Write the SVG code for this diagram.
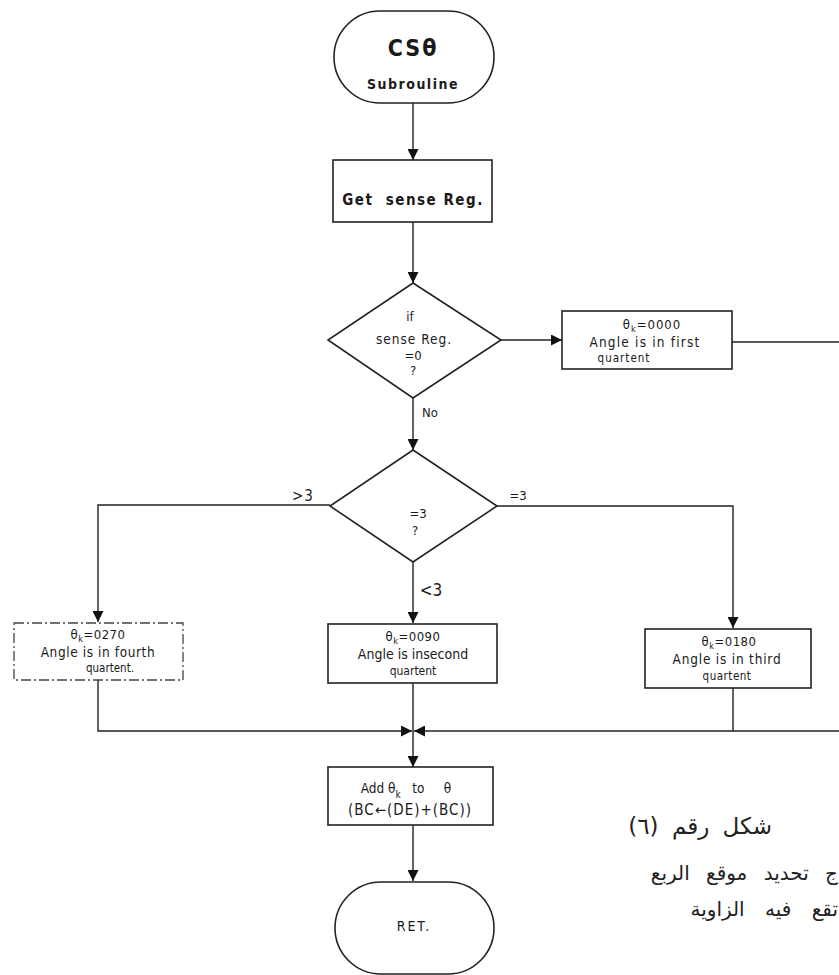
<svg xmlns="http://www.w3.org/2000/svg" width="839" height="975" viewBox="0 0 839 975">
<style>
  .shape{fill:#fff;stroke:#222;stroke-width:1.6}
  .dash{fill:#fff;stroke:#444;stroke-width:1.3;stroke-dasharray:10 3 2 3}
  .line{fill:none;stroke:#222;stroke-width:1.4}
  .t{font-family:"DejaVu Sans Condensed","DejaVu Sans","Liberation Sans",sans-serif;fill:#1a1a1a;text-anchor:middle}
  .ar{font-family:"DejaVu Sans","Noto Sans",sans-serif;fill:#222}
</style>
<defs>
  <marker id="ah" viewBox="0 0 10 10" refX="10" refY="5" markerWidth="11" markerHeight="11" markerUnits="userSpaceOnUse" orient="auto">
    <path d="M0,0 L10,5 L0,10 z" fill="#111"/>
  </marker>
</defs>
<rect width="839" height="975" fill="#fff"/>

<g id="connectors">
  <path class="line" d="M413,103 V160" marker-end="url(#ah)"/>
  <path class="line" d="M413,222 V283" marker-end="url(#ah)"/>
  <path class="line" d="M501,340 H562" marker-end="url(#ah)"/>
  <path class="line" d="M732,342 H839"/>
  <path class="line" d="M413,398 V450" marker-end="url(#ah)"/>
  <path class="line" d="M330,505 H98 V622" marker-end="url(#ah)"/>
  <path class="line" d="M413,562 V623" marker-end="url(#ah)"/>
  <path class="line" d="M497,506 H733 V628" marker-end="url(#ah)"/>
  <path class="line" d="M98,680 V731 H412" marker-end="url(#ah)"/>
  <path class="line" d="M733,688 V731"/>
  <path class="line" d="M839,731 H414" marker-end="url(#ah)"/>
  <path class="line" d="M413,683 V767" marker-end="url(#ah)"/>
  <path class="line" d="M413,825 V881" marker-end="url(#ah)"/>
  <text class="t" x="430" y="417" font-size="13">No</text>
  <text class="t" x="303" y="501" font-size="15" letter-spacing="1">&gt;3</text>
  <text class="t" x="518" y="500" font-size="13">=3</text>
  <text class="t" x="431" y="596" font-size="17">&lt;3</text>
</g>

<g id="start">
  <rect class="shape" x="334" y="11" width="160" height="92" rx="46" ry="46"/>
  <text class="t" x="413" y="56" font-size="23" font-weight="bold" letter-spacing="2">CSθ</text>
  <text class="t" x="413" y="89" font-size="14" font-weight="bold" letter-spacing="1.5">Subrouline</text>
</g>

<g id="get-sense">
  <rect class="shape" x="333" y="160" width="159" height="62"/>
  <text class="t" x="413" y="205" font-size="15" font-weight="bold" letter-spacing="1.5" xml:space="preserve">Get  sense Reg.</text>
</g>

<g id="decision-zero">
  <path class="shape" d="M413,283 L501,340 L413,398 L328,340 z"/>
  <text class="t" x="410" y="321" font-size="13">if</text>
  <text class="t" x="414" y="344" font-size="13.5" letter-spacing="1">sense Reg.</text>
  <text class="t" x="413" y="360" font-size="13">=0</text>
  <text class="t" x="413" y="375" font-size="13">?</text>
</g>

<g id="first-quadrant">
  <rect class="shape" x="562" y="311" width="170" height="58"/>
  <text class="t" x="652" y="329" font-size="13" letter-spacing="1">θ<tspan font-size="9" dy="3">k</tspan><tspan dy="-3">=0000</tspan></text>
  <text class="t" x="645" y="347" font-size="13.5" letter-spacing="1.2">Angle is in first</text>
  <text class="t" x="624" y="362" font-size="11.5" letter-spacing="1">quartent</text>
</g>

<g id="decision-three">
  <path class="shape" d="M413,450 L497,506 L413,562 L330,506 z"/>
  <text class="t" x="418" y="518" font-size="13">=3</text>
  <text class="t" x="415" y="535" font-size="13">?</text>
</g>

<g id="fourth-quadrant">
  <rect class="dash" x="14" y="623" width="169" height="57"/>
  <text class="t" x="98" y="639" font-size="13" letter-spacing="0.5">θ<tspan font-size="9" dy="3">k</tspan><tspan dy="-3">=0270</tspan></text>
  <text class="t" x="98" y="657" font-size="13.5" letter-spacing="0.6">Angle is in fourth</text>
  <text class="t" x="110" y="672" font-size="11.5">quartent.</text>
</g>

<g id="second-quadrant">
  <rect class="shape" x="328" y="624" width="169" height="59"/>
  <text class="t" x="413" y="641" font-size="13" letter-spacing="0.5">θ<tspan font-size="9" dy="3">k</tspan><tspan dy="-3">=0090</tspan></text>
  <text class="t" x="413" y="659" font-size="14">Angle is insecond</text>
  <text class="t" x="413" y="675" font-size="12">quartent</text>
</g>

<g id="third-quadrant">
  <rect class="shape" x="645" y="629" width="166" height="59"/>
  <text class="t" x="729" y="646" font-size="13" letter-spacing="0.5">θ<tspan font-size="9" dy="3">k</tspan><tspan dy="-3">=0180</tspan></text>
  <text class="t" x="727" y="664" font-size="13.5" letter-spacing="0.8">Angle is in third</text>
  <text class="t" x="727" y="680" font-size="11.5" letter-spacing="0.5">quartent</text>
</g>

<g id="add-theta">
  <rect class="shape" x="328" y="767" width="165" height="58"/>
  <text class="t" x="406" y="793" font-size="13.5" xml:space="preserve">Add θ<tspan font-size="10" dy="5">k</tspan><tspan dy="-5">   to     θ</tspan></text>
  <text class="t" x="410" y="815" font-size="15" letter-spacing="1">(BC←(DE)+(BC))</text>
</g>

<g id="ret">
  <rect class="shape" x="335" y="882" width="159" height="92" rx="46" ry="46"/>
  <text class="t" x="414" y="931" font-size="14" letter-spacing="2">RET.</text>
</g>

<g id="caption">
  <text class="ar" x="772" y="834" font-size="23" direction="rtl" text-anchor="start" word-spacing="6">شكل رقم (٦)</text>
  <text class="ar" x="838" y="880" font-size="20" direction="rtl" text-anchor="start" word-spacing="10" letter-spacing="2">ج تحديد موقع الربع</text>
  <text class="ar" x="838" y="916" font-size="20" direction="rtl" text-anchor="start" word-spacing="14" letter-spacing="2">تقع فيه الزاوية</text>
</g>
</svg>
